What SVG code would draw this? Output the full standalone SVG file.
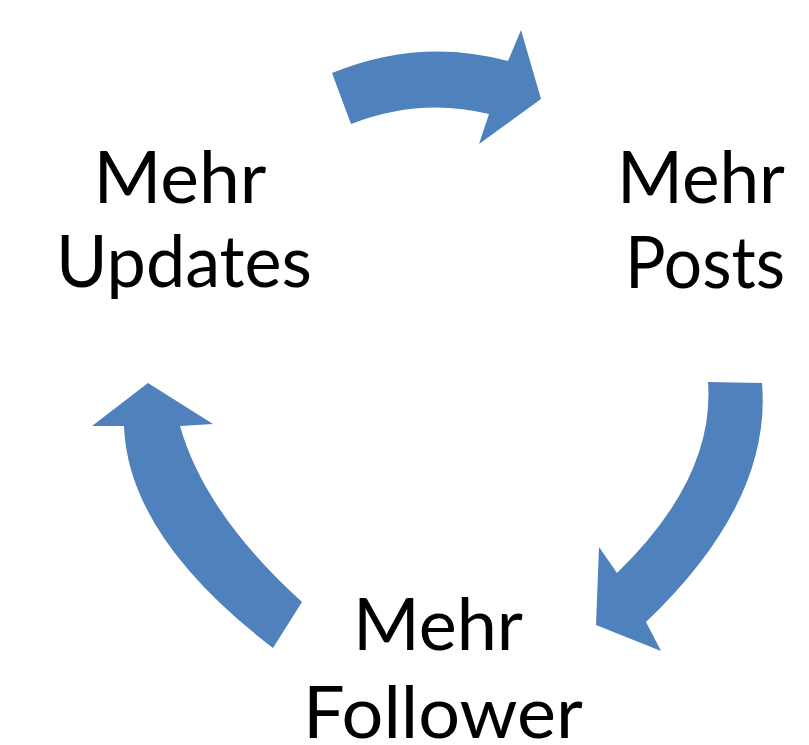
<svg xmlns="http://www.w3.org/2000/svg" width="809" height="745" viewBox="0 0 809 745">
<style>
.arrow{fill:#4F81BD;stroke:none}
.lbl{font-family:Lato,"Open Sans","Liberation Sans",sans-serif;font-size:71px;fill:#000;text-anchor:middle}
</style>
<rect width="809" height="745" fill="#fff"/>
<g id="connectors">
<path class="arrow" d="M332,73 Q420,37 508,61 L521,30 L541,99 L479,144 L489,114 Q420,97 351,124 Z"/>
<path class="arrow" d="M708,382 L762,383 Q772,502 646,622 L661,651 L596,625 L599,547 L617,573 Q715,478 708,382 Z"/>
<path class="arrow" d="M302,602 L273,648 Q128,537 124,426 L92,426 L148,383 L213,424 L180,426 Q205,514 302,602 Z"/>
</g>
<g id="node-updates">
<text class="lbl" x="180" y="203" textLength="173" lengthAdjust="spacingAndGlyphs">Mehr</text>
<text class="lbl" x="184" y="287" textLength="256" lengthAdjust="spacingAndGlyphs">Updates</text>
</g>
<g id="node-posts">
<text class="lbl" x="701" y="203" textLength="168" lengthAdjust="spacingAndGlyphs">Mehr</text>
<text class="lbl" x="705" y="288" textLength="160" lengthAdjust="spacingAndGlyphs">Posts</text>
</g>
<g id="node-follower">
<text class="lbl" x="438" y="650" textLength="170" lengthAdjust="spacingAndGlyphs">Mehr</text>
<text class="lbl" x="443" y="738" textLength="280" lengthAdjust="spacingAndGlyphs">Follower</text>
</g>
</svg>
